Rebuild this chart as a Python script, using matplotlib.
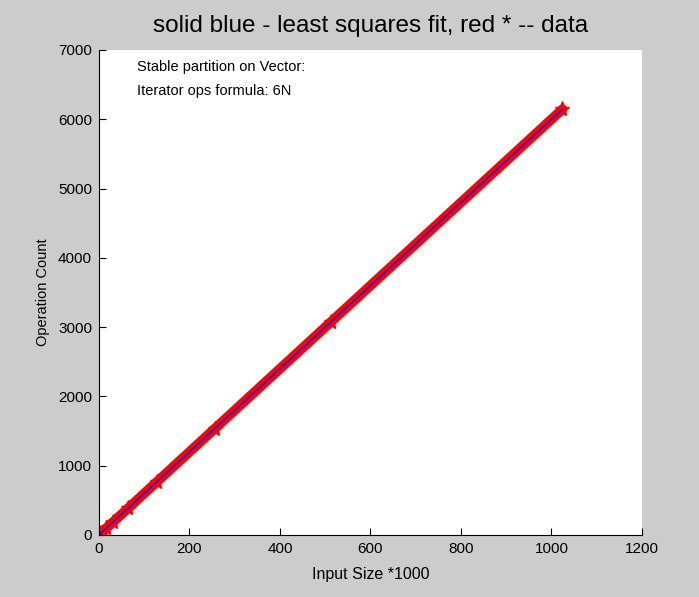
import numpy as np
import matplotlib
matplotlib.use("Agg")
import matplotlib.pyplot as plt

plt.rcParams["font.family"] = ["Liberation Sans", "DejaVu Sans"]

# measured data (input size in thousands, op count in thousands)
input_size = [1, 2, 4, 8, 16, 32, 64, 128, 256, 512, 1024]
op_count = [6, 12, 24, 48, 96, 192, 384, 768, 1536, 3072, 6144]

x_ticks = [0, 200, 400, 600, 800, 1000, 1200]
y_ticks = [0, 1000, 2000, 3000, 4000, 5000, 6000, 7000]

# least squares fit
coef = np.polyfit(input_size, op_count, 1)
fit = np.polyval(coef, input_size)

fig = plt.figure(figsize=(6.99, 5.97), dpi=100, facecolor="#cccccc")
ax = fig.add_axes([0.1416, 0.1039, 0.7768, 0.8124])
ax.set_facecolor("white")

ax.plot(input_size, op_count, color="red", linewidth=7, marker="*",
        markersize=11, solid_capstyle="round")
ax.plot(input_size, fit, color="blue", linewidth=1)

ax.set_xlim(0, 1200)
ax.set_ylim(0, 7000)
ax.set_xticks(x_ticks)
ax.set_yticks(y_ticks)
ax.tick_params(direction="in", labelsize=11, length=5, pad=5)
for side in ("top", "right"):
    ax.spines[side].set_visible(False)

ax.text(84, 6760, "Stable partition on Vector:", fontsize=10.5, va="center")
ax.text(84, 6410, "Iterator ops formula: 6N", fontsize=10.5, va="center")

ax.set_xlabel("Input Size *1000", fontsize=11.5, labelpad=8)
ax.set_ylabel("Operation Count", fontsize=10.5, labelpad=6)
ax.set_title("solid blue - least squares fit, red * -- data", fontsize=17.5, pad=13)

fig.savefig("out.png", dpi=100, facecolor=fig.get_facecolor())
